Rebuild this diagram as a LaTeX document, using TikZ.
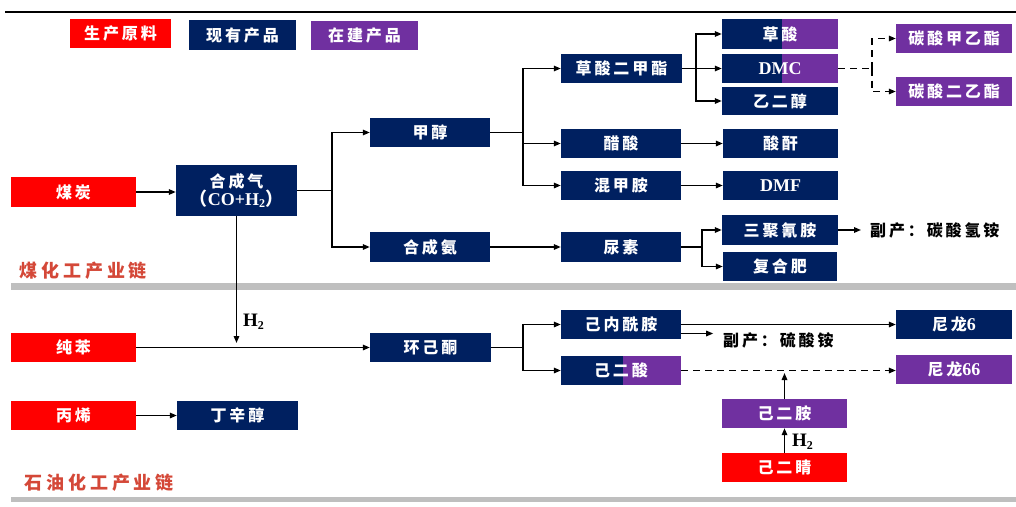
\documentclass[tikz,border=0pt]{standalone}
\usepackage{fontspec}
\setmainfont{Liberation Serif}
\newfontfamily\cjk{Noto Sans CJK SC}[UprightFont={* Bold}, LetterSpace=18]
\newfontfamily\cjklab{Noto Sans CJK SC}[UprightFont={* Bold}, LetterSpace=22]
\usetikzlibrary{arrows.meta}
\definecolor{cnavy}{RGB}{0,32,96}
\definecolor{cpurple}{RGB}{112,48,160}
\definecolor{cred}{RGB}{255,0,0}
\definecolor{cgray}{RGB}{191,191,191}
\definecolor{clabel}{RGB}{212,72,56}
\newcommand\zh[1]{{\fontsize{16}{18}\cjk #1}}
\newcommand\zhl[1]{{\fontsize{18}{20}\cjklab #1}}
\newcommand\subtwo{\raisebox{-0.35ex}{\fontsize{12}{12}\selectfont 2}}
\begin{document}
\begin{tikzpicture}[x=1pt,y=-1pt,
  box/.style={inner sep=0pt, text=white, font=\fontsize{18}{20}\selectfont\bfseries, minimum height=29pt},
  nv/.style={box, fill=cnavy},
  pu/.style={box, fill=cpurple},
  rd/.style={box, fill=cred},
  split/.style={path picture={\fill[cpurple] ([xshift=#1]path picture bounding box.north west) rectangle (path picture bounding box.south east);}},
  ln/.style={line width=1.5pt},
  arr/.style={ln, -{Triangle[length=7pt,width=5.5pt]}},
  dl/.style={ln, dash pattern=on 7pt off 5pt},
  darr/.style={arr, dash pattern=on 7pt off 5pt},
  side/.style={font=\fontsize{18}{20}\selectfont\bfseries, inner sep=0pt, anchor=west},
  chain/.style={text=clabel, font=\fontsize{18}{20}\selectfont\bfseries, inner sep=0pt, anchor=west}
]
\useasboundingbox (0,0) rectangle (1016,506);

% frame decorations
\draw[line width=1.8pt] (5,12) -- (1016,12);
\fill[cgray] (11,283) rectangle (1016,290);
\fill[cgray] (11,497) rectangle (1016,502);

% legend
\node[rd, minimum width=101pt] (lg1) at (120.5,33.5) {\zh{生产原料}};
\node[nv, minimum width=107pt, minimum height=30pt] (lg2) at (242.5,35) {\zh{现有产品}};
\node[pu, minimum width=107pt] (lg3) at (364.5,35.5) {\zh{在建产品}};

% coal chain
\node[rd, minimum width=125pt, minimum height=30pt] (meitan) at (73.5,192) {\zh{煤炭}};
\node[nv, minimum width=121pt, minimum height=51pt, align=center] (hcq) at (236.5,190.5) {\zh{合成气}\\[-2pt]{\cjk（}CO+H\subtwo{\cjk）}};
\node[nv, minimum width=120pt] (jiachun) at (430,132.5) {\zh{甲醇}};
\node[nv, minimum width=120pt, minimum height=30pt] (hcan) at (430,247) {\zh{合成氨}};
\node[nv, minimum width=121pt] (cs2mz) at (621.5,68.5) {\zh{草酸二甲酯}};
\node[nv, minimum width=116pt, minimum height=30pt, split=60pt] (caosuan) at (780,34) {\zh{草酸}};
\node[nv, minimum width=116pt, split=60pt] (dmc) at (780,68.5) {DMC};
\node[nv, minimum width=116pt, minimum height=28pt] (yiec) at (780,101) {\zh{乙二醇}};
\node[pu, minimum width=116pt] (tsjyz) at (954,38.5) {\zh{碳酸甲乙酯}};
\node[pu, minimum width=116pt] (tseyz) at (954,91.5) {\zh{碳酸二乙酯}};
\node[nv, minimum width=120pt] (cusuan) at (621,143.5) {\zh{醋酸}};
\node[nv, minimum width=115pt] (suangan) at (780.5,143.5) {\zh{酸酐}};
\node[nv, minimum width=120pt] (hjamine) at (621,185.5) {\zh{混甲胺}};
\node[nv, minimum width=115pt] (dmf) at (780.5,185.5) {DMF};
\node[nv, minimum width=120pt, minimum height=30pt] (niaosu) at (621,247) {\zh{尿素}};
\node[nv, minimum width=116pt, minimum height=30pt] (sjqa) at (780,230) {\zh{三聚氰胺}};
\node[nv, minimum width=114pt] (fhf) at (780,266.5) {\zh{复合肥}};
\node[side] (fc1) at (870,230) {\zh{副产：碳酸氢铵}};
\coordinate (fc1a) at (861,230);
\node[chain] (lab1) at (19,271) {\zhl{煤化工产业链}};

% petro chain
\node[rd, minimum width=125pt] (chunben) at (73.5,347.5) {\zh{纯苯}};
\node[nv, minimum width=121pt] (hjt) at (430.5,347.5) {\zh{环己酮}};
\node[rd, minimum width=125pt] (bingxi) at (73.5,415.5) {\zh{丙烯}};
\node[nv, minimum width=121pt] (dxc) at (237.5,415.5) {\zh{丁辛醇}};
\node[nv, minimum width=120pt] (jnxa) at (621,324.5) {\zh{己内酰胺}};
\node[nv, minimum width=120pt, split=62pt] (jes) at (621,370.5) {\zh{己二酸}};
\node[nv, minimum width=116pt] (nl6) at (954,324.5) {\zh{尼龙}6};
\node[pu, minimum width=116pt] (nl66) at (954,369.5) {\zh{尼龙}66};
\node[pu, minimum width=125pt] (jea) at (784.5,413.5) {\zh{己二胺}};
\node[rd, minimum width=125pt] (jej) at (784.5,467.5) {\zh{己二睛}};
\node[side] (fc2) at (723,340) {\zh{副产：硫酸铵}};
\node[chain] (lab2) at (24,483) {\zhl{石油化工产业链}};
\node[side, font=\fontsize{19}{21}\selectfont\bfseries] (h2a) at (243,322) {H\subtwo};
\node[side, font=\fontsize{19}{21}\selectfont\bfseries] (h2b) at (792,442) {H\subtwo};

% junctions
\coordinate (j1) at (332,190.5);
\coordinate (j2) at (523,132.5);
\coordinate (j3) at (696,68.5);
\coordinate (j4) at (872,68.5);
\coordinate (j5) at (702,247);
\coordinate (j6) at (523,347.5);
\coordinate (h2end) at (236.5,343);
\coordinate (jm) at (784.5,373);

% connectors
\draw[arr] (meitan.east) -- (meitan.east -| hcq.west);
\draw[ln] (hcq.east) -- (j1);
\draw[arr] (j1) |- (jiachun.west);
\draw[arr] (j1) |- (hcan.west);
\draw[ln] (jiachun.east) -- (j2);
\draw[arr] (j2) |- (cs2mz.west);
\draw[arr] (j2) |- (cusuan.west);
\draw[arr] (j2) |- (hjamine.west);
\draw[ln] (cs2mz.east) -- (j3);
\draw[arr] (j3) |- (caosuan.west);
\draw[arr] (j3) |- (dmc.west);
\draw[arr] (j3) |- (yiec.west);
\draw[dl] (dmc.east) -- (j4);
\draw[darr] (j4) |- (tsjyz.west);
\draw[darr] (j4) |- (tseyz.west);
\draw[arr] (cusuan.east) -- (suangan.west);
\draw[arr] (hjamine.east) -- (dmf.west);
\draw[arr] (hcan.east) -- (niaosu.west);
\draw[ln] (niaosu.east) -- (j5);
\draw[arr] (j5) |- (sjqa.west);
\draw[arr] (j5) |- (fhf.west);
\draw[arr] (sjqa.east) -- (fc1a);

\draw[arr] (hcq.south) -- (h2end);
\draw[arr] (chunben.east) -- (hjt.west);
\draw[arr] (bingxi.east) -- (dxc.west);
\draw[ln] (hjt.east) -- (j6);
\draw[arr] (j6) |- (jnxa.west);
\draw[arr] (j6) |- (jes.west);
\draw[arr] (jnxa.east) -- (nl6.west);
\draw[arr] ([yshift=-9pt]jnxa.east) -- ([yshift=-9pt,xshift=32pt]jnxa.east);
\draw[darr] (jes.east) -- (nl66.west |- jes.east);
\draw[arr] (jea.north) -- (jm);
\draw[arr] (jej.north) -- (jea.south);
\end{tikzpicture}
\end{document}
